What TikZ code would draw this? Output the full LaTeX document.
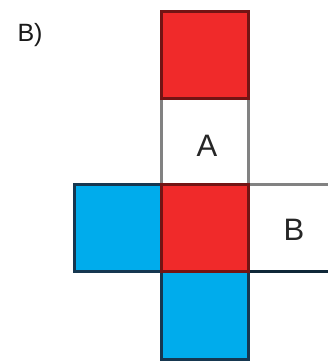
\documentclass[tikz,border=0pt]{standalone}
\usepackage{fontspec}
\setmainfont{Liberation Sans}
\begin{document}
\begin{tikzpicture}[x=1pt,y=-1pt,
  cell/.style={minimum width=87pt,minimum height=87pt,inner sep=0pt,outer sep=0pt,line width=3pt},
  redcell/.style={cell,fill=cred,draw=cdred},
  bluecell/.style={cell,fill=cblue,draw=cdblue},
  whitecell/.style={cell,fill=white,draw=cgray},
  lbl/.style={font=\fontsize{31}{31}\selectfont,text=black!85}]
\definecolor{cred}{RGB}{240,42,42}
\definecolor{cdred}{RGB}{115,20,20}
\definecolor{cblue}{RGB}{0,172,236}
\definecolor{cdblue}{RGB}{22,55,80}
\definecolor{cgray}{RGB}{130,130,130}
\useasboundingbox (0,0) rectangle (328,363);
\fill[white] (0,0) rectangle (328,363);
% B cell (open to the right)
\node[cell] (bc) at (291.5,228) {};
\draw[cgray,line width=3pt] (bc.north west) -- (bc.north east);
\draw[cdblue!70!black,line width=3pt] (bc.south west) -- (bc.south east);
% column
\node[whitecell,minimum height=86pt] (a) at (204.5,142) {};
\node[redcell] (r1) at (204.5,55.5) {};
\node[bluecell,minimum height=88pt] (b2) at (204.5,315) {};
\node[bluecell] (b1) at (117.5,228) {};
\node[redcell] (r2) at (204.5,228) {};
% texts
\node[lbl] (ta) at (207,146) {A};
\node[lbl] (tb) at (294,230) {B};
\node[font=\fontsize{25}{25}\selectfont,text=black!90] (tl) at (30,35) {B)};
\end{tikzpicture}
\end{document}
